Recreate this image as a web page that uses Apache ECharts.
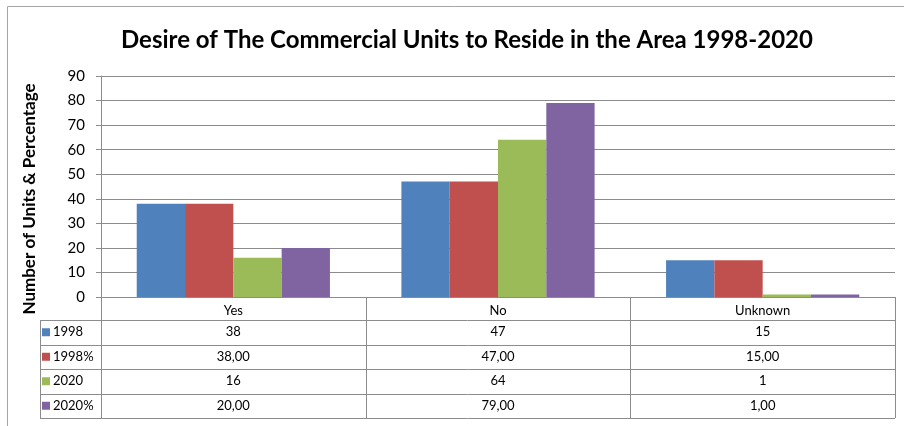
<!DOCTYPE html>
<html>
<head>
<meta charset="utf-8">
<script src="https://cdn.jsdelivr.net/npm/echarts@6/dist/echarts.min.js"></script>
<style>
  html, body { margin: 0; padding: 0; background: #fff; }
  #main { width: 904px; height: 426px; }
</style>
</head>
<body>
<div id="main"></div>
<script>
// data
var categories = ['Yes', 'No', 'Unknown'];
var seriesNames = ['1998', '1998%', '2020', '2020%'];
var v1998 = [38, 47, 15];
var v1998pct = [38, 47, 15];
var v2020 = [16, 64, 1];
var v2020pct = [20, 79, 1];
var pctSeries = [false, true, false, true];
var yMin = 0, yMax = 90, yStep = 10;

var colors = ['#4F81BD', '#C0504D', '#9BBB59', '#8064A2'];
var allValues = [v1998, v1998pct, v2020, v2020pct];

// layout
var gridBox = { left: 101, right: 9, top: 76, bottom: 129 };
var lineColor = '#8c8c8c';
var font = 'Lato, "Noto Sans", sans-serif';

var chart = echarts.init(document.getElementById('main'));

/**
 * 表格单元格文字
 */
function cellText(v, isPct) {
    return isPct ? v.toFixed(2).replace('.', ',') : String(v);
}

var series = seriesNames.map(function (name, i) {
    return {
        name: name,
        type: 'bar',
        data: allValues[i],
        barGap: '0%',
        barCategoryGap: '27%',
        itemStyle: { color: colors[i] },
        animation: false
    };
});

chart.setOption({
    animation: false,
    title: {
        text: 'Desire of The Commercial Units to Reside in the Area 1998-2020',
        left: 116,
        top: 23,
        textStyle: { fontFamily: font, fontWeight: 'bold', fontSize: 24, color: '#000' }
    },
    grid: gridBox,
    xAxis: {
        type: 'category',
        data: categories,
        axisLine: { show: true, lineStyle: { color: lineColor } },
        axisTick: { show: false },
        axisLabel: { fontFamily: font, fontSize: 13, color: '#000', margin: 7 }
    },
    yAxis: {
        type: 'value',
        min: yMin,
        max: yMax,
        interval: yStep,
        axisLine: { show: true, lineStyle: { color: lineColor } },
        axisTick: { show: true, length: 5, lineStyle: { color: lineColor } },
        axisLabel: { fontFamily: font, fontSize: 15, color: '#000', margin: 16 },
        splitLine: { lineStyle: { color: lineColor } }
    },
    series: series
});

// 数据表格
function buildTable() {
    var g = [];
    var x0 = gridBox.left, x1 = 904 - gridBox.right;
    var yAxisY = 426 - gridBox.bottom;
    var headerH = 23, rowH = 24.5;
    var legendX = 40;
    var colW = (x1 - x0) / categories.length;
    var tableBottom = yAxisY + headerH + rowH * seriesNames.length;
    var ls = { stroke: lineColor, lineWidth: 1 };
    var cellFont = '13px ' + font;

    // horizontal lines
    for (var r = 0; r <= seriesNames.length; r++) {
        var y = Math.round(yAxisY + headerH + rowH * r) + 0.5;
        g.push({ type: 'line', shape: { x1: legendX, y1: y, x2: x1, y2: y }, style: ls, silent: true });
    }
    // vertical lines
    g.push({ type: 'line', shape: { x1: legendX + 0.5, y1: yAxisY + headerH, x2: legendX + 0.5, y2: tableBottom }, style: ls });
    for (var c = 0; c <= categories.length; c++) {
        var x = Math.round(x0 + colW * c) + 0.5;
        g.push({ type: 'line', shape: { x1: x, y1: yAxisY, x2: x, y2: tableBottom }, style: ls });
    }
    // legend cells + values
    seriesNames.forEach(function (name, i) {
        var cy = yAxisY + headerH + rowH * i + rowH / 2;
        g.push({ type: 'rect', shape: { x: 42, y: cy - 4, width: 8, height: 8 }, style: { fill: colors[i] } });
        g.push({ type: 'text', x: 53, y: cy, style: { text: name, font: cellFont, fill: '#000', verticalAlign: 'middle' } });
        categories.forEach(function (cat, j) {
            var cx = chart.convertToPixel({ xAxisIndex: 0 }, cat);
            g.push({ type: 'text', x: cx, y: cy, style: { text: cellText(allValues[i][j], pctSeries[i]), font: cellFont, fill: '#000', align: 'center', verticalAlign: 'middle' } });
        });
    });
    // y axis title
    g.push({
        type: 'text', x: 30, y: 199, rotation: Math.PI / 2,
        style: { text: 'Number of Units & Percentage', font: 'bold 17px ' + font, fill: '#000', align: 'center', verticalAlign: 'middle' }
    });
    // outer frame
    g.push({ type: 'line', shape: { x1: 7.5, y1: 6.5, x2: 904, y2: 6.5 }, style: { stroke: '#a6a6a6', lineWidth: 1 } });
    g.push({ type: 'line', shape: { x1: 7.5, y1: 6.5, x2: 7.5, y2: 426 }, style: { stroke: '#a6a6a6', lineWidth: 1 } });
    return g;
}

chart.setOption({ graphic: { elements: buildTable() } });
</script>
</body>
</html>
